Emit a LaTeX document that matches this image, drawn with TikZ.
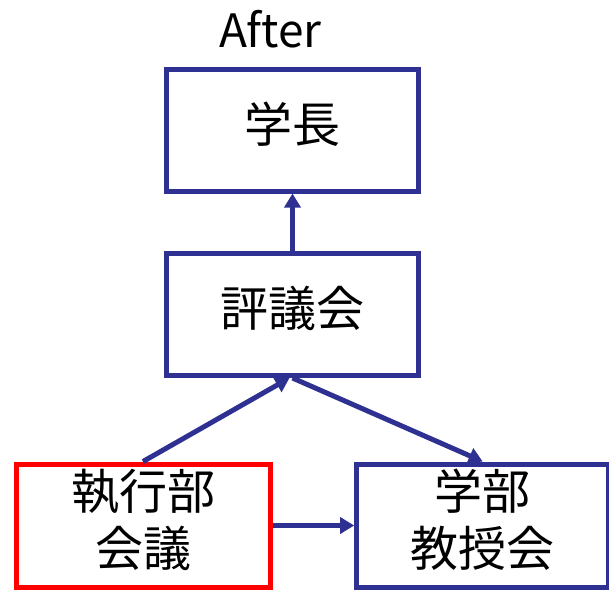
\documentclass[tikz,border=0pt]{standalone}
\usepackage{fontspec}
\setmainfont{Noto Sans CJK JP}
\usetikzlibrary{arrows.meta}
\definecolor{navyline}{RGB}{46,49,146}
\definecolor{redline}{RGB}{255,0,0}
\tikzset{
  box/.style={draw=navyline, line width=5pt, minimum width=252pt, minimum height=122pt,
    inner sep=0pt, align=center, text depth=16pt, font=\fontsize{48}{57}\selectfont},
  redbox/.style={box, draw=redline},
  conn/.style={draw=navyline, line width=5pt, -{Triangle[length=14pt,width=16pt]}}
}
\begin{document}
\begin{tikzpicture}[x=1pt,y=-1pt]
\useasboundingbox (0,0) rectangle (609,589);
\node[anchor=base, font=\fontsize{46}{50}\selectfont] (after) at (270.5,47) {After};
\node[box] (gakucho) at (292.5,130) {学長};
\node[box] (hyogikai) at (292.5,314.5) {評議会};
\node[redbox, minimum width=254pt, minimum height=123pt] (shikko) at (143,525.5) {執行部\\会議};
\node[box, minimum height=123pt] (kyoju) at (482.7,525.5) {学部\\教授会};
\draw[conn] (hyogikai.north) -- (gakucho.south);
\draw[conn] (shikko.north) -- ([xshift=-3pt]hyogikai.south);
\draw[conn] (hyogikai.south) -- (kyoju.north);
\draw[conn] (shikko.east) -- (kyoju.west);
\end{tikzpicture}
\end{document}
